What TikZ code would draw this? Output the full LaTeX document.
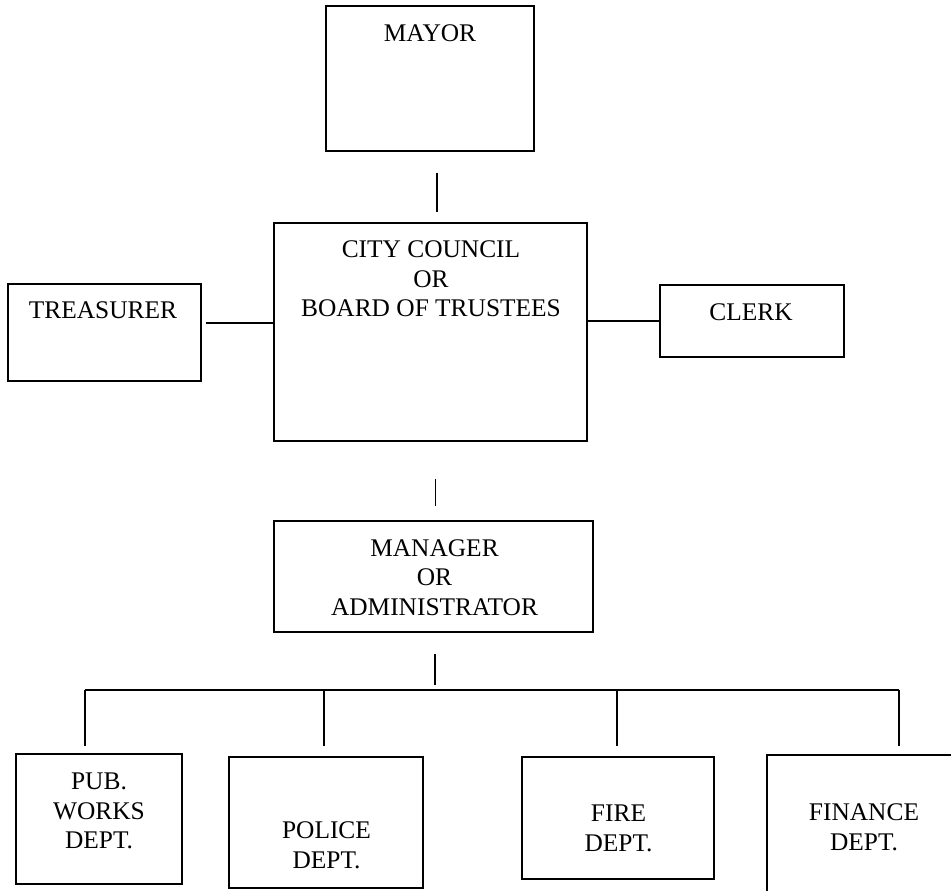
\documentclass[tikz,border=0pt]{standalone}
\usepackage{fontspec}
\setmainfont{Liberation Serif}
\tikzset{
  orgbox/.style={draw, line width=0.6pt, inner sep=0pt},
  orgtext/.style={align=center, font=\fontsize{12.7}{14.8}\selectfont, inner sep=0pt},
  orgline/.style={line width=0.6pt}
}
\begin{document}
\begin{tikzpicture}[x=0.5pt,y=-0.5pt]
    \clip (0,0) rectangle (951,890);
    % boxes
    \node[orgbox, minimum width=104pt, minimum height=72.5pt] (mayor) at (430,78.5) {};
    \node[orgbox, minimum width=156.5pt, minimum height=109pt] (council) at (430.5,332) {};
    \node[orgbox, minimum width=96.5pt, minimum height=48.5pt] (treasurer) at (104.5,332.5) {};
    \node[orgbox, minimum width=92pt, minimum height=36pt] (clerk) at (752,321) {};
    \node[orgbox, minimum width=159.5pt, minimum height=55.5pt] (manager) at (433.5,576.5) {};
    \node[orgbox, minimum width=83pt, minimum height=65pt] (pubworks) at (99,819) {};
    \node[orgbox, minimum width=97pt, minimum height=65.5pt] (police) at (326,822.5) {};
    \node[orgbox, minimum width=96pt, minimum height=61pt] (fire) at (618,818) {};
    \node[orgbox, minimum width=100pt, minimum height=75pt] (finance) at (867,830) {};
    % labels
    \node[orgtext] (mayor-t) at (430,33) {MAYOR};
    \node[orgtext] (council-t) at (431,279) {CITY COUNCIL\\OR\\BOARD OF TRUSTEES};
    \node[orgtext] (treasurer-t) at (103,310) {TREASURER};
    \node[orgtext] (clerk-t) at (751,312) {CLERK};
    \node[orgtext] (manager-t) at (434.5,577.5) {MANAGER\\OR\\ADMINISTRATOR};
    \node[orgtext] (pubworks-t) at (99,811) {PUB.\\WORKS\\DEPT.};
    \node[orgtext] (police-t) at (326.5,845) {POLICE\\DEPT.};
    \node[orgtext] (fire-t) at (618.5,828.5) {FIRE\\DEPT.};
    \node[orgtext] (finance-t) at (864,827.5) {FINANCE\\DEPT.};
    % bus under the manager
    \coordinate (bus) at (435,690);
    \coordinate (d1) at (85,690);
    \coordinate (d2) at (324,690);
    \coordinate (d3) at (617,690);
    \coordinate (d4) at (899,690);
    % connectors
    \draw[orgline, shorten <=10.5pt, shorten >=5pt] ([xshift=3.5pt]mayor.south) -- ([xshift=3.5pt]mayor.south |- council.north);
    \draw[orgline, shorten <=2pt] ([yshift=4.75pt]treasurer.east) -- ([yshift=4.75pt]treasurer.east -| council.west);
    \draw[orgline] (council.east |- clerk.west) -- (clerk.west);
    \draw[orgline, shorten <=18.5pt, shorten >=7pt] ([xshift=2.5pt]council.south) -- ([xshift=2.5pt]council.south |- manager.north);
    \draw[orgline, shorten <=10.5pt, shorten >=2.5pt] (manager.south -| bus) -- (bus);
    \draw[orgline] (d1) -- (d4);
    \draw[orgline, shorten >=3.5pt] (d1) -- (d1 |- pubworks.north);
    \draw[orgline, shorten >=5pt] (d2) -- (d2 |- police.north);
    \draw[orgline, shorten >=5pt] (d3) -- (d3 |- fire.north);
    \draw[orgline, shorten >=4pt] (d4) -- (d4 |- finance.north);
\end{tikzpicture}
\end{document}
